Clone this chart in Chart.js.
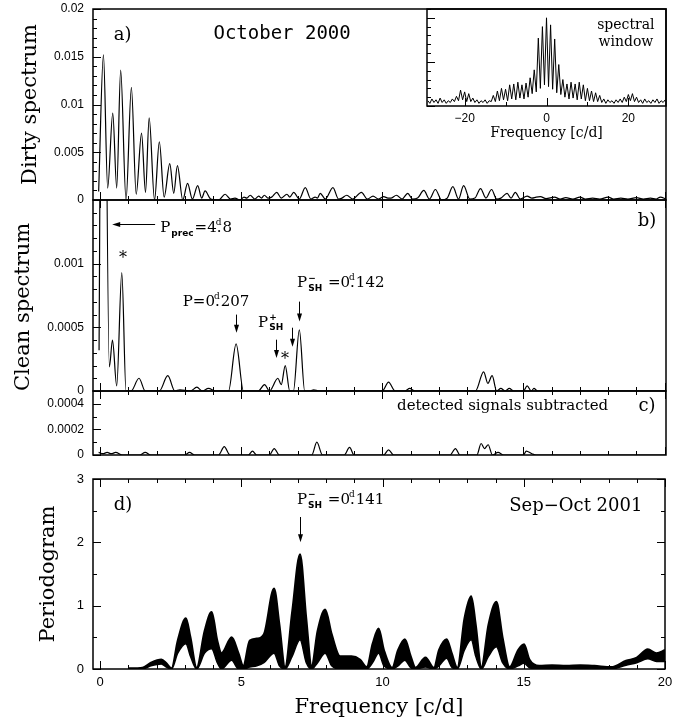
<!DOCTYPE html>
<html>
<head>
<meta charset="utf-8">
<script src="https://cdn.jsdelivr.net/npm/chart.js@4"></script>
<style>
  body { margin: 0; background: #fff; }
  #fig { position: relative; width: 691px; height: 722px; background: #fff; }
  #fig canvas { position: absolute; }
</style>
</head>
<body>
<div id="fig">
  <canvas id="panelA" width="691" height="205" style="left:0;top:0"></canvas>
  <canvas id="panelB" width="691" height="205" style="left:0;top:195px"></canvas>
  <canvas id="panelC" width="691" height="80" style="left:0;top:386px"></canvas>
  <canvas id="panelD" width="691" height="252" style="left:0;top:470px"></canvas>
  <canvas id="inset" width="311" height="150" style="left:380px;top:0"></canvas>
</div>
<script>
Chart.defaults.color = '#000';
Chart.defaults.font.family = 'Liberation Sans';
Chart.defaults.animation = false;
const serif = 'DejaVu Serif';

// a) dirty spectrum, October 2000
const dirtyFreq = [-0.05, 0.12, 0.27, 0.45, 0.59, 0.73, 0.92, 1.11, 1.28, 1.47, 1.61, 1.74, 1.93, 2.10, 2.27, 2.47, 2.61, 2.74, 2.93, 3.10,
  3.27, 3.46, 3.60, 3.72, 3.92, 4.20, 4.43, 4.62, 4.78, 4.95, 5.10, 5.20, 5.32, 5.48, 5.62, 5.72, 5.82, 5.95, 6.08, 6.26,
  6.42, 6.62, 6.72, 6.86, 7.06, 7.27, 7.47, 7.62, 7.70, 7.80, 7.98, 8.25, 8.45, 8.57, 8.74, 8.95, 9.26, 9.47, 9.67, 9.87,
  10.05, 10.20, 10.30, 10.50, 10.70, 10.90, 11.07, 11.25, 11.47, 11.67, 11.88, 12.10, 12.30, 12.50, 12.70, 12.88, 13.10, 13.28, 13.48, 13.67,
  13.87, 14.05, 14.20, 14.42, 14.56, 14.71, 14.89, 15.13, 15.30, 15.45, 15.60, 15.80, 16.10, 16.30, 16.50, 16.75, 17.00, 17.20, 17.45, 17.70,
  18.00, 18.20, 18.45, 18.70, 19.00, 19.25, 19.50, 19.70, 19.85, 20.05];
const dirtyPow = [0.0009, 0.0152, 0.00125, 0.0091, 0.00125, 0.0136, 0.0, 0.0118, 0.0006, 0.0070, 0.0008, 0.0086, 0.0, 0.0061, 0.0003, 0.0038, 0.0007, 0.0036, 0.0, 0.00175,
  0.0001, 0.0015, 0.0002, 0.00095, 0.0001, 0.0, 0.0006, 0.0001, 0.0002, 0.0, 0.0003, 0.0002, 0.0005, 0.0001, 0.0004, 0.0002, 0.0005, 0.0002, 0.0003, 0.0008,
  0.0002, 0.0006, 0.0003, 0.0008, 0.0001, 0.0013, 0.0001, 0.0003, 0.0002, 0.0007, 0.0001, 0.0013, 0.0001, 0.0002, 0.0005, 0.0001, 0.0008, 0.0001, 0.0004, 0.0001,
  0.00035, 0.0002, 0.0002, 0.0005, 0.0001, 0.0007, 0.0001, 0.0002, 0.0010, 0.0001, 0.0011, 0.0, 0.0002, 0.0014, 0.0001, 0.0015, 0.0001, 0.0002, 0.0012, 0.0002,
  0.0011, 0.0001, 0.0002, 0.0007, 0.0002, 0.0008, 0.0001, 0.0004, 0.0002, 0.0003, 0.00035, 0.00015, 0.0003, 0.0001, 0.00025, 0.0001, 0.0003, 0.0001, 0.0002, 0.0001,
  0.0003, 0.0001, 0.0002, 0.0001, 0.00025, 0.0001, 0.0002, 0.0001, 0.0003, 0.0001];

// inset: spectral window
const windowFreq = [-29, -28.5, -28, -27.5, -27, -26.5, -26, -25.5, -25, -24.5, -24, -23.5, -23, -22.5, -22, -21.5, -21, -20.5, -20, -19.5,
  -19, -18.5, -18, -17.5, -17, -16.5, -16, -15.5, -15, -14.5, -14, -13.5, -13, -12.5, -12, -11.5, -11, -10.5, -10, -9.5,
  -9, -8.5, -8, -7.5, -7, -6.5, -6, -5.5, -5, -4.5, -4, -3.5, -3, -2.5, -2, -1.5, -1, -0.5, 0, 0.5,
  1, 1.5, 2, 2.5, 3, 3.5, 4, 4.5, 5, 5.5, 6, 6.5, 7, 7.5, 8, 8.5, 9, 9.5, 10, 10.5,
  11, 11.5, 12, 12.5, 13, 13.5, 14, 14.5, 15, 15.5, 16, 16.5, 17, 17.5, 18, 18.5, 19, 19.5, 20, 20.5,
  21, 21.5, 22, 22.5, 23, 23.5, 24, 24.5, 25, 25.5, 26, 26.5, 27, 27.5, 28, 28.5, 29];
const windowPow = [0.06, 0.03, 0.08, 0.04, 0.07, 0.03, 0.09, 0.04, 0.07, 0.03, 0.06, 0.04, 0.08, 0.05, 0.11, 0.06, 0.18, 0.07, 0.16, 0.05,
  0.14, 0.05, 0.09, 0.04, 0.07, 0.03, 0.06, 0.04, 0.07, 0.03, 0.06, 0.05, 0.12, 0.05, 0.17, 0.06, 0.20, 0.07, 0.19, 0.06,
  0.24, 0.08, 0.25, 0.07, 0.27, 0.09, 0.24, 0.08, 0.26, 0.10, 0.32, 0.14, 0.41, 0.16, 0.77, 0.20, 0.90, 0.24, 1.00, 0.22,
  0.92, 0.19, 0.76, 0.15, 0.47, 0.13, 0.30, 0.10, 0.25, 0.08, 0.27, 0.09, 0.25, 0.07, 0.27, 0.08, 0.24, 0.06, 0.20, 0.06,
  0.17, 0.05, 0.15, 0.05, 0.12, 0.04, 0.08, 0.03, 0.07, 0.04, 0.06, 0.03, 0.07, 0.04, 0.08, 0.04, 0.10, 0.05, 0.13, 0.06,
  0.14, 0.05, 0.10, 0.04, 0.07, 0.03, 0.08, 0.04, 0.06, 0.03, 0.07, 0.04, 0.08, 0.03, 0.06, 0.04, 0.07];

// b) clean spectrum
const cleanFreq = [-0.035, 0.09, 0.33, 0.44, 0.59, 0.77, 0.92, 1.10, 1.38, 1.60, 2.10, 2.40, 2.65, 2.83, 3.20, 3.43, 3.62, 3.84, 4.10, 4.55,
  4.82, 5.08, 5.60, 5.83, 6.00, 6.30, 6.42, 6.56, 6.72, 6.85, 7.06, 7.25, 7.45, 7.57, 7.75, 10.00, 10.22, 10.45, 10.80, 10.97,
  11.15, 13.30, 13.59, 13.74, 13.89, 14.05, 14.20, 14.35, 14.50, 14.65, 15.00, 15.13, 15.28, 15.37, 15.50, 20.05];
const cleanPow = [0.00032, 0.005, 0.00019, 0.0004, 0.00004, 0.00093, 0.0, 0.0, 0.0001, 0.0, 0.0, 0.00012, 0.0, 0.00001, 0.0, 0.00003, 0.0, 0.00002, 0.0, 0.0,
  0.00037, 0.0, 0.0, 0.00005, 0.0, 0.0001, 0.00005, 0.0002, 0.0, 0.0, 0.00048, 0.0, 0.0, 0.00001, 0.0, 0.0, 0.00007, 0.0, 0.0, 0.00002,
  0.0, 0.0, 0.00015, 0.00006, 0.00012, 0.0, 0.00002, 0.0, 0.00002, 0.0, 0.0, 0.00004, 0.0, 0.00002, 0.0, 0.0];

// c) residuals after subtracting detected signals
const residFreq = [-0.05, 0.10, 0.25, 0.40, 0.55, 0.80, 1.40, 1.60, 1.80, 3.00, 3.17, 3.35, 4.20, 4.40, 4.60, 5.25, 5.40, 5.55, 6.00, 6.17,
  6.35, 7.50, 7.68, 7.88, 8.65, 8.84, 9.00, 10.05, 10.22, 10.40, 12.40, 12.59, 12.75, 13.35, 13.50, 13.62, 13.75, 13.90, 14.10, 14.30,
  15.00, 15.10, 15.30, 15.45, 20.05];
const residPow = [0.00002, 0.00001, 0.00002, 0.00001, 0.00002, 0.0, 0.0, 0.00002, 0.0, 0.0, 0.00002, 0.0, 0.0, 0.000065, 0.0, 0.0, 0.00003, 0.0, 0.0, 0.00005,
  0.0, 0.0, 0.0001, 0.0, 0.0, 0.00006, 0.0, 0.0, 0.00004, 0.0, 0.0, 0.00005, 0.0, 0.0, 0.00009, 0.00005, 0.00008, 0.0, 0.00002, 0.0,
  0.0, 0.00003, 0.00001, 0.0, 0.0];

// d) periodogram Sep-Oct 2001 (upper and lower edge of the dense band)
const periodFreq = [1.0, 1.5, 1.8, 2.17, 2.35, 2.53, 2.75, 3.04, 3.2, 3.42, 3.7, 3.95, 4.15, 4.3, 4.66, 4.9, 5.07, 5.3, 5.55, 5.8,
  6.16, 6.35, 6.55, 6.8, 7.08, 7.3, 7.49, 7.7, 7.97, 8.2, 8.5, 8.9, 9.2, 9.44, 9.65, 9.86, 10.05, 10.34, 10.55, 10.79,
  11.0, 11.17, 11.52, 11.82, 12.0, 12.27, 12.45, 12.65, 12.9, 13.14, 13.3, 13.5, 13.75, 14.03, 14.25, 14.5, 14.8, 15.01, 15.2, 15.55,
  16.0, 16.5, 17.0, 17.5, 18.1, 18.62, 19.0, 19.39, 19.7, 20.0];
const periodUpper = [0.01, 0.02, 0.10, 0.15, 0.09, 0.01, 0.45, 0.80, 0.50, 0.02, 0.60, 0.90, 0.45, 0.25, 0.50, 0.25, 0.05, 0.45, 0.48, 0.55,
  1.27, 0.70, 0.03, 0.90, 1.81, 0.80, 0.05, 0.60, 0.94, 0.55, 0.20, 0.20, 0.15, 0.03, 0.40, 0.64, 0.30, 0.02, 0.30, 0.47,
  0.20, 0.02, 0.18, 0.02, 0.30, 0.47, 0.25, 0.02, 0.80, 1.15, 0.70, 0.03, 0.70, 1.06, 0.50, 0.03, 0.30, 0.39, 0.15, 0.05,
  0.06, 0.05, 0.06, 0.05, 0.03, 0.13, 0.18, 0.31, 0.25, 0.30];
const periodLower = [0.0, 0.0, 0.05, 0.08, 0.03, 0.0, 0.25, 0.40, 0.20, 0.0, 0.25, 0.32, 0.10, 0.0, 0.14, 0.0, 0.0, 0.03, 0.05, 0.10,
  0.25, 0.05, 0.0, 0.20, 0.46, 0.10, 0.0, 0.10, 0.25, 0.05, 0.0, 0.0, 0.0, 0.0, 0.10, 0.25, 0.05, 0.0, 0.05, 0.14,
  0.02, 0.0, 0.03, 0.0, 0.05, 0.17, 0.03, 0.0, 0.30, 0.46, 0.20, 0.0, 0.20, 0.35, 0.10, 0.0, 0.05, 0.09, 0.02, 0.0,
  0.0, 0.0, 0.01, 0.0, 0.0, 0.06, 0.10, 0.16, 0.12, 0.12];

// tick values and labels
const yTicksA = [0, 0.005, 0.01, 0.015, 0.02];
const yLabelsA = ['0', '0.005', '0.01', '0.015', '0.02'];
const yTicksB = [0, 0.0005, 0.001];
const yLabelsB = ['0', '0.0005', '0.001'];
const yTicksC = [0, 0.0002, 0.0004];
const yLabelsC = ['0', '0.0002', '0.0004'];
const yTicksD = [0, 1, 2, 3];
const yLabelsD = ['0', '1', '2', '3'];
const xTicksD = [0, 5, 10, 15, 20];
const xLabelsD = ['0', '5', '10', '15', '20'];
const xTicksWin = [-20, 0, 20];
const xLabelsWin = ['\u221220', '0', '20'];

function pts(xs, ys) {
  return xs.map((x, i) => ({ x: x, y: ys[i] }));
}
function fixed(vals) {
  return s => { s.ticks = vals.map(v => ({ value: v })); };
}
function steps(min, max, step) {
  const out = [];
  for (let k = Math.ceil(min / step - 1e-9); k <= Math.floor(max / step + 1e-9); k++) out.push(k * step);
  return out;
}
function isMajor(v, major) {
  return Math.abs(v / major - Math.round(v / major)) < 1e-6;
}
// fixed axis box size, and no extra room for half labels at the ends
function fitWidth(w) {
  return s => { s.width = w; s.paddingTop = 0; s.paddingBottom = 0; };
}
function fitHeight(h) {
  return s => { s.height = h; s.paddingLeft = 0; s.paddingRight = 0; };
}

// box around the plot with PGPLOT style ticks pointing inwards
function frameTicks(c) {
  return {
    id: 'frameTicks',
    afterDatasetsDraw(chart) {
      const ctx = chart.ctx, a = chart.chartArea;
      const sx = chart.scales.x, sy = chart.scales.y;
      ctx.save();
      ctx.strokeStyle = '#000';
      ctx.lineWidth = 1;
      ctx.beginPath();
      steps(sx.min, sx.max, c.xMinor).forEach(v => {
        const p = Math.round(sx.getPixelForValue(v)) + 0.5;
        const len = isMajor(v, c.xMajor) ? 8 : 4;
        if (c.bottom) { ctx.moveTo(p, a.bottom); ctx.lineTo(p, a.bottom - len); }
        if (c.top) { ctx.moveTo(p, a.top); ctx.lineTo(p, a.top + len); }
      });
      steps(sy.min, sy.max, c.yMinor).forEach(v => {
        const p = Math.round(sy.getPixelForValue(v)) + 0.5;
        const len = isMajor(v, c.yMajor) ? 8 : 4;
        if (c.left) { ctx.moveTo(a.left, p); ctx.lineTo(a.left + len, p); }
        if (c.right) { ctx.moveTo(a.right, p); ctx.lineTo(a.right - len, p); }
      });
      ctx.stroke();
      ctx.lineWidth = 1.5;
      ctx.strokeRect(a.left, a.top, a.width, a.height);
      ctx.restore();
    }
  };
}

// text with P_SH^-, 0^d.142 style pieces
function pieceWidth(ctx, p, size) {
  if (typeof p === 'string') { ctx.font = size + 'px ' + serif; return ctx.measureText(p).width; }
  if (p.day) { ctx.font = size + 'px ' + serif; return ctx.measureText('.').width + 1; }
  ctx.font = 'bold ' + Math.round(size * 0.6) + 'px DejaVu Sans';
  const w1 = ctx.measureText(p.sub || '').width;
  const w2 = ctx.measureText(p.sup || '').width;
  return Math.max(w1, w2) + 2;
}
function drawRich(ctx, parts, x, y, size, align) {
  const widths = parts.map(p => pieceWidth(ctx, p, size));
  const total = widths.reduce((s, w) => s + w, 0);
  let cx = align === 'center' ? x - total / 2 : align === 'right' ? x - total : x;
  ctx.textAlign = 'left';
  ctx.textBaseline = 'middle';
  parts.forEach((p, i) => {
    if (typeof p === 'string') {
      ctx.font = size + 'px ' + serif;
      ctx.fillText(p, cx, y);
    } else if (p.day) {
      ctx.font = size + 'px ' + serif;
      ctx.fillText('.', cx, y);
      ctx.font = Math.round(size * 0.62) + 'px ' + serif;
      ctx.fillText('d', cx - 1, y - size * 0.38);
    } else {
      ctx.font = 'bold ' + Math.round(size * 0.6) + 'px DejaVu Sans';
      if (p.sub) ctx.fillText(p.sub, cx + 1, y + size * 0.36);
      if (p.sup) ctx.fillText(p.sup, cx + 1, y - size * 0.34);
    }
    cx += widths[i];
  });
}
function arrowHead(ctx, x, y, dx, dy) {
  const len = 8, half = 2.5;
  ctx.beginPath();
  ctx.moveTo(x, y);
  ctx.lineTo(x - dx * len - dy * half, y - dy * len - dx * half);
  ctx.lineTo(x - dx * len + dy * half, y - dy * len + dx * half);
  ctx.closePath();
  ctx.fill();
}
function notes(items) {
  return {
    id: 'notes',
    afterDraw(chart) {
      const ctx = chart.ctx, sx = chart.scales.x, sy = chart.scales.y;
      ctx.save();
      ctx.fillStyle = '#000';
      ctx.strokeStyle = '#000';
      ctx.lineWidth = 1;
      items.forEach(it => {
        if (it.down !== undefined) {
          const px = Math.round(sx.getPixelForValue(it.down)) + 0.5;
          const y1 = sy.getPixelForValue(it.from), y2 = sy.getPixelForValue(it.to);
          ctx.beginPath(); ctx.moveTo(px, y1); ctx.lineTo(px, y2 - 4); ctx.stroke();
          arrowHead(ctx, px, y2, 0, 1);
        } else if (it.left !== undefined) {
          const py = Math.round(sy.getPixelForValue(it.left)) + 0.5;
          const x1 = sx.getPixelForValue(it.from), x2 = sx.getPixelForValue(it.to);
          ctx.beginPath(); ctx.moveTo(x1, py); ctx.lineTo(x2 + 4, py); ctx.stroke();
          arrowHead(ctx, x2, py, -1, 0);
        } else if (it.parts) {
          drawRich(ctx, it.parts, sx.getPixelForValue(it.x), sy.getPixelForValue(it.y), it.size || 15, it.align || 'left');
        } else {
          ctx.font = (it.size || 15) + 'px ' + (it.family || serif);
          ctx.textAlign = it.align || 'center';
          ctx.textBaseline = 'middle';
          ctx.fillText(it.text, sx.getPixelForValue(it.x), sy.getPixelForValue(it.y));
        }
      });
      ctx.restore();
    }
  };
}

function lineSet(data, smooth, width) {
  return {
    data: data, borderColor: '#000', borderWidth: width || 1.2, pointRadius: 0, fill: false, clip: 0,
    cubicInterpolationMode: smooth ? 'monotone' : 'default', tension: 0
  };
}
function yAxis(min, max, vals, labels, title, size) {
  return {
    type: 'linear', min: min, max: max,
    afterBuildTicks: fixed(vals),
    afterFit: fitWidth(93),
    ticks: { autoSkip: false, padding: 9, font: { size: size || 12 }, callback: (v, i) => labels[i] },
    grid: { display: false, drawTicks: false },
    border: { display: false },
    title: title || { display: false }
  };
}
const xHidden = { type: 'linear', min: -0.25, max: 20.05, display: false };
const baseOpts = {
  responsive: false, devicePixelRatio: 1, animation: false,
  plugins: { legend: { display: false }, tooltip: { enabled: false } }
};

new Chart(document.getElementById('panelA'), {
  type: 'line',
  data: { datasets: [lineSet(pts(dirtyFreq, dirtyPow), true)] },
  options: Object.assign({}, baseOpts, {
    layout: { padding: { left: 0, top: 9, right: 25, bottom: 5 } },
    scales: {
      x: xHidden,
      y: yAxis(0, 0.02, yTicksA, yLabelsA,
        { display: true, text: 'Dirty spectrum', font: { family: serif, size: 21 }, padding: { top: 18, bottom: 0 } })
    }
  }),
  plugins: [
    frameTicks({ xMajor: 5, xMinor: 1, yMajor: 0.005, yMinor: 0.001, bottom: true, left: true }),
    notes([
      { text: 'a)', x: 0.8, y: 0.01728, size: 18 },
      { text: 'October 2000', x: 6.45, y: 0.01738, size: 19, family: 'DejaVu Sans Mono' }
    ])
  ]
});

new Chart(document.getElementById('panelB'), {
  type: 'line',
  data: { datasets: [lineSet(pts(cleanFreq, cleanPow), true)] },
  options: Object.assign({}, baseOpts, {
    layout: { padding: { left: 0, top: 5, right: 25, bottom: 9 } },
    scales: {
      x: xHidden,
      y: yAxis(0, 0.0015, yTicksB, yLabelsB,
        { display: true, text: 'Clean spectrum', align: 'start', font: { family: serif, size: 21 }, padding: { top: 11, bottom: 0 } })
    }
  }),
  plugins: [
    frameTicks({ xMajor: 5, xMinor: 1, yMajor: 0.0005, yMinor: 0.0001, bottom: true, top: true, left: true }),
    notes([
      { left: 0.00131, from: 1.95, to: 0.43 },
      { parts: ['P', { sub: 'prec' }, '=4', { day: true }, '8'], x: 2.13, y: 0.00128, size: 15, align: 'left' },
      { text: '*', x: 0.81, y: 0.00104, size: 16 },
      { parts: ['P=0', { day: true }, '207'], x: 4.11, y: 0.000695, size: 15, align: 'center' },
      { down: 4.82, from: 0.0006, to: 0.000458 },
      { parts: ['P', { sub: 'SH', sup: '+' }], x: 6.06, y: 0.000537, size: 15, align: 'center' },
      { down: 6.23, from: 0.000403, to: 0.00026 },
      { down: 6.8, from: 0.000497, to: 0.000347 },
      { text: '*', x: 6.55, y: 0.000245, size: 16 },
      { parts: ['P', { sub: 'SH', sup: '\u2212' }, ' =0', { day: true }, '142'], x: 6.98, y: 0.000845, size: 15, align: 'left' },
      { down: 7.05, from: 0.000702, to: 0.000545 },
      { text: 'b)', x: 19.38, y: 0.001334, size: 18 }
    ])
  ]
});

new Chart(document.getElementById('panelC'), {
  type: 'line',
  data: { datasets: [lineSet(pts(residFreq, residPow), true)] },
  options: Object.assign({}, baseOpts, {
    layout: { padding: { left: 0, top: 5, right: 25, bottom: 11 } },
    scales: { x: xHidden, y: yAxis(0, 0.0005, yTicksC, yLabelsC) }
  }),
  plugins: [
    frameTicks({ xMajor: 5, xMinor: 1, yMajor: 0.0002, yMinor: 0.0001, bottom: true, top: true, left: true }),
    notes([
      { text: 'detected signals subtracted', x: 18.0, y: 0.000384, size: 15, align: 'right' },
      { text: 'c)', x: 19.38, y: 0.000384, size: 18 }
    ])
  ]
});

const upperSet = lineSet(pts(periodFreq, periodUpper), true, 2);
upperSet.fill = '+1';
upperSet.backgroundColor = '#000';
const lowerSet = lineSet(pts(periodFreq, periodLower), true, 1.5);

new Chart(document.getElementById('panelD'), {
  type: 'line',
  data: { datasets: [upperSet, lowerSet] },
  options: Object.assign({}, baseOpts, {
    layout: { padding: { left: 0, top: 9, right: 26, bottom: 0 } },
    scales: {
      x: {
        type: 'linear', min: -0.25, max: 20,
        afterBuildTicks: fixed(xTicksD),
        afterFit: fitHeight(53),
        ticks: { autoSkip: false, maxRotation: 0, padding: 6, font: { size: 13 }, callback: (v, i) => xLabelsD[i] },
        grid: { display: false, drawTicks: false },
        border: { display: false },
        title: { display: true, text: 'Frequency [c/d]', font: { family: serif, size: 21 }, padding: { top: 0, bottom: 2 } }
      },
      y: yAxis(0, 3, yTicksD, yLabelsD,
        { display: true, text: 'Periodogram', font: { family: serif, size: 21 }, padding: { top: 36, bottom: 0 } }, 13)
    }
  }),
  plugins: [
    frameTicks({ xMajor: 5, xMinor: 1, yMajor: 1, yMinor: 0.5, bottom: true, top: true, left: true, right: true }),
    notes([
      { text: 'd)', x: 0.81, y: 2.59, size: 18 },
      { parts: ['P', { sub: 'SH', sup: '\u2212' }, ' =0', { day: true }, '141'], x: 6.97, y: 2.67, size: 15, align: 'left' },
      { down: 7.08, from: 2.4, to: 2.0 },
      { text: 'Sep\u2212Oct 2001', x: 19.2, y: 2.57, size: 18, align: 'right' }
    ])
  ]
});

new Chart(document.getElementById('inset'), {
  type: 'line',
  data: { datasets: [lineSet(pts(windowFreq, windowPow), false, 1)] },
  options: Object.assign({}, baseOpts, {
    layout: { padding: { left: 47, top: 9, right: 25, bottom: 0 } },
    scales: {
      x: {
        type: 'linear', min: -29.2, max: 29.2,
        afterBuildTicks: fixed(xTicksWin),
        afterFit: fitHeight(44),
        ticks: { autoSkip: false, maxRotation: 0, padding: 5, font: { size: 12 }, callback: (v, i) => xLabelsWin[i] },
        grid: { display: false, drawTicks: false },
        border: { display: false },
        title: { display: true, text: 'Frequency [c/d]', font: { family: serif, size: 14 }, padding: { top: 0, bottom: 8 } }
      },
      y: { type: 'linear', min: 0, max: 1.1, display: false }
    }
  }),
  plugins: [
    frameTicks({ xMajor: 20, xMinor: 10, yMajor: 0.5, yMinor: 0.1, bottom: true, left: true }),
    notes([
      { text: 'spectral', x: 19.4, y: 0.92, size: 14 },
      { text: 'window', x: 19.4, y: 0.72, size: 14 }
    ])
  ]
});
</script>
</body>
</html>
